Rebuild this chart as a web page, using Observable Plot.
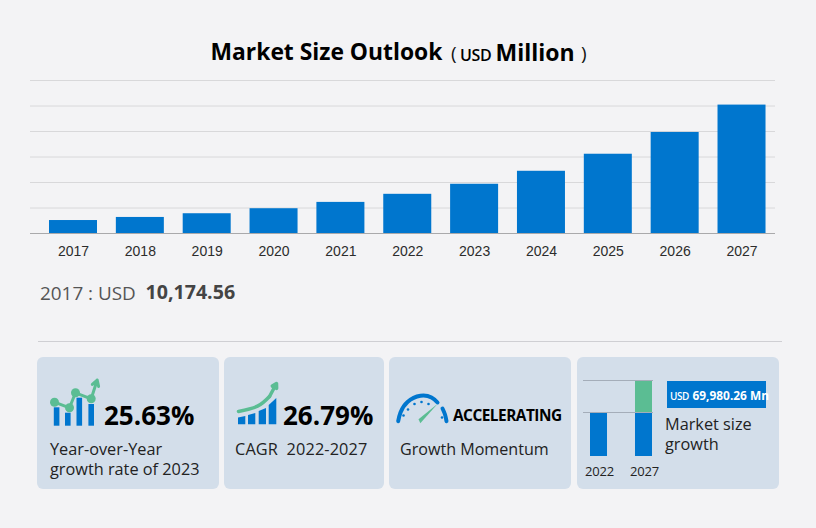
<!DOCTYPE html>
<html><head><meta charset="utf-8">
<script src="https://cdn.jsdelivr.net/npm/d3@7"></script>
<script src="https://cdn.jsdelivr.net/npm/@observablehq/plot@0.6"></script>
<style>
html,body{margin:0;padding:0;background:#f3f3f5;}
#page{position:relative;width:816px;height:528px;overflow:hidden;font-family:"Open Sans","Noto Sans",sans-serif;color:#111;}
#page svg{position:absolute;background:transparent;overflow:visible;}
.t{position:absolute;white-space:nowrap;line-height:1;transform:translateY(-50%);}
.card{position:absolute;top:357px;height:132px;background:#d3deea;border-radius:6px;}
</style></head><body><div id="page"></div>
<script>
const years=["2017","2018","2019","2020","2021","2022","2023","2024","2025","2026","2027"];
const marketSize=[10174.56,12590,15500,19440,24400,30737,38615,48800,62170,79250,100718];
const gridValues=[20000,40000,60000,80000,100000,120000];
const titleText=["Market Size Outlook","(","USD","Million",")"];
const readout=["2017 : USD","10,174.56"];
const kpis=["25.63%","26.79%","ACCELERATING"];
const captions=["Year-over-Year","growth rate of 2023","CAGR  2022-2027","Growth Momentum","Market size","growth"];
const miniYears=["2022","2027"];
const miniBase=[11,11];
const miniGrowth=[0,8];
const miniGrid=[11,19];
const growthValue=["USD","69,980.26 Mn"];
const yoyBars=[[6.6,20.7],[17.8,15.3],[29.3,30.3],[41.2,24]];
const yoyLine=[[4,26.3],[19,20.7],[25,35.7],[40.7,29.7]];
const yoyArrow=[[40.7,29.7],[46.7,48.5]];
const cagrBars=[[0,2,10.5],[0,9.3,12],[1,12,13],[1,19.3,15],[2,22.7,17],[2,30,20],[3,32.7,23],[3,40.3,30]];
const cagrCurve=[[2,17],[21,22.3],[33,32]];
const cagrArrow=[[33,32],[40,45]];
const gaugeArcA=[[2.7,3.3],[5,12],[12,22.5],[25,28.7],[36,27],[42,22]];
const gaugeArcB=[[47,16],[49.5,10],[51,3.3]];
const gaugeTicks=[[8,9],[12.5,15],[19,20.5],[26,22.5],[33,20.5],[46.5,7]];
const gaugeNeedle=[[25.3,0.8,23.5,4.8],[42.7,20.3,42.7,20.3]];

const BLUE="#0076ce",GREEN="#5bbd93";
const page=document.getElementById("page");
function place(svg,x,y){svg.style.left=x+"px";svg.style.top=y+"px";page.appendChild(svg);}
function text(s,x,y,size,weight,color,extra){const d=document.createElement("div");d.className="t";d.textContent=s;
  d.style.cssText=`left:${x}px;top:${y}px;font-size:${size}px;font-weight:${weight||400};color:${color||"#111"};${extra||""}`;page.appendChild(d);return d;}
const X=d=>d[0],Y=d=>d[1];

// title
text(titleText[0],210.5,52,22.85,700,"#000");
text(titleText[1],451,53,19,400,"#111");
text(titleText[2],460,54.5,16,600,"#000","letter-spacing:-.4px;");
text(titleText[3],495.5,52,23,700,"#000");
text(titleText[4],581,53,19,400,"#111");

// main chart
const rows=years.map((y,i)=>({year:y,value:marketSize[i]}));
place(Plot.plot({width:816,height:210,marginTop:21,marginBottom:36,marginLeft:30,marginRight:41,
  style:{fontFamily:"'Liberation Sans',Arial,sans-serif",fontSize:"14px",background:"transparent"},
  x:{domain:years,paddingInner:.282,paddingOuter:.213,align:.667,round:false,label:null},
  y:{domain:[0,120000],axis:null},
  marks:[
    Plot.ruleY(gridValues,{stroke:"#d8d8da",strokeWidth:1,strokeOpacity:1}),
    Plot.barY(rows,{x:"year",y:"value",fill:BLUE}),
    Plot.ruleY([0],{stroke:"#a9a9ab",strokeWidth:1,strokeOpacity:1}),
    Plot.axisX({tickSize:0,tickPadding:12.5,fontSize:14,color:"#2c2c2c",label:null})
  ]}),0,59);

text(readout[0],40,293,18.9,400,"#555");
text(readout[1],145.5,292,19.6,700,"#444");

// divider
const dv=document.createElement("div");dv.style.cssText="position:absolute;left:38px;top:340.5px;width:744px;height:1px;background:#cfcfd3";page.appendChild(dv);

// cards
[[37,182],[224,160],[389,182],[577,202]].forEach(([x,w])=>{const c=document.createElement("div");c.className="card";c.style.left=x+"px";c.style.width=w+"px";page.appendChild(c);});

// yoy icon
const none={axis:null};
place(Plot.plot({width:52,height:52,margin:0,x:{type:"linear",domain:[0,52],...none},y:{domain:[0,52],...none},
  marks:[
    Plot.rectY(yoyBars,{x1:d=>d[0]-2.8,x2:d=>d[0]+2.8,y1:2.3,y2:Y,fill:BLUE}),
    Plot.line(yoyLine,{x:X,y:Y,stroke:GREEN,strokeWidth:3}),
    Plot.dot(yoyLine,{x:X,y:Y,r:4.5,fill:GREEN}),
    Plot.arrow([yoyArrow],{x1:d=>d[0][0],y1:d=>d[0][1],x2:d=>d[1][0],y2:d=>d[1][1],stroke:GREEN,strokeWidth:3,headLength:10,bend:0})
  ]}),50,376);
text(kpis[0],104,415,26,700,"#000");
text(captions[0],50,449,16.3,400,"#222");
text(captions[1],50,469,16.3,400,"#222");

// cagr icon
place(Plot.plot({width:44,height:48,margin:0,x:{type:"linear",domain:[0,44],...none},y:{domain:[0,48],...none},
  marks:[
    Plot.areaY(cagrBars,{x:d=>d[1],y1:3.7,y2:d=>d[2],z:d=>d[0],fill:BLUE}),
    Plot.line(cagrCurve,{x:X,y:Y,stroke:GREEN,strokeWidth:3.5,curve:"natural"}),
    Plot.arrow([cagrArrow],{x1:d=>d[0][0],y1:d=>d[0][1],x2:d=>d[1][0],y2:d=>d[1][1],stroke:GREEN,strokeWidth:3.5,headLength:10,bend:0})
  ]}),236,380);
text(kpis[1],283,415,26,700,"#000");
text(captions[2],235,449,16.3,400,"#222","white-space:pre;letter-spacing:.12px;");

// gauge icon
place(Plot.plot({width:54,height:32,margin:0,x:{type:"linear",domain:[0,54],...none},y:{domain:[0,32],...none},
  marks:[
    Plot.line(gaugeArcA,{x:X,y:Y,stroke:BLUE,strokeWidth:4,curve:"natural"}),
    Plot.line(gaugeArcB,{x:X,y:Y,stroke:BLUE,strokeWidth:4,curve:"natural"}),
    Plot.dot(gaugeTicks,{x:X,y:Y,r:1.3,fill:BLUE}),
    Plot.area(gaugeNeedle,{x1:d=>d[0],y1:d=>d[1],x2:d=>d[2],y2:d=>d[3],fill:GREEN})
  ]}),395,392);
text(kpis[2],453,416,15.4,700,"#000","letter-spacing:-.5px;");
text(captions[3],400,449,16.1,400,"#222");

// mini chart
const miniRows=miniYears.map((y,i)=>({year:y,base:miniBase[i],growth:miniGrowth[i]}));
place(Plot.plot({width:70,height:96,marginTop:20,marginBottom:0,marginLeft:0,marginRight:0,
  x:{domain:miniYears,range:[7,69],paddingInner:.622,paddingOuter:0,round:false,...none},y:{domain:[0,19],range:[96,20],...none},
  marks:[
    Plot.barY(miniRows,{x:"year",y1:0,y2:"base",fill:BLUE}),
    Plot.barY(miniRows,{x:"year",y1:"base",y2:d=>d.base+d.growth,fill:GREEN}),
    Plot.ruleY(miniGrid,{stroke:"#a4adb9",strokeWidth:1,strokeOpacity:1})
  ]}),583,360);
text(miniYears[0],585,471,13,400,"#222","letter-spacing:-.2px;");
text(miniYears[1],630,471,13,400,"#222","letter-spacing:-.2px;");
const box=document.createElement("div");box.style.cssText=`position:absolute;left:667px;top:381px;width:99px;height:27px;background:${BLUE}`;page.appendChild(box);
text(growthValue[0],670,396,10,600,"#fff","letter-spacing:-.5px;");
text(growthValue[1],692.5,396,11.9,700,"#fff");
text(captions[4],665,424,16.3,400,"#222");
text(captions[5],665,444,16.3,400,"#222");
</script></body></html>
